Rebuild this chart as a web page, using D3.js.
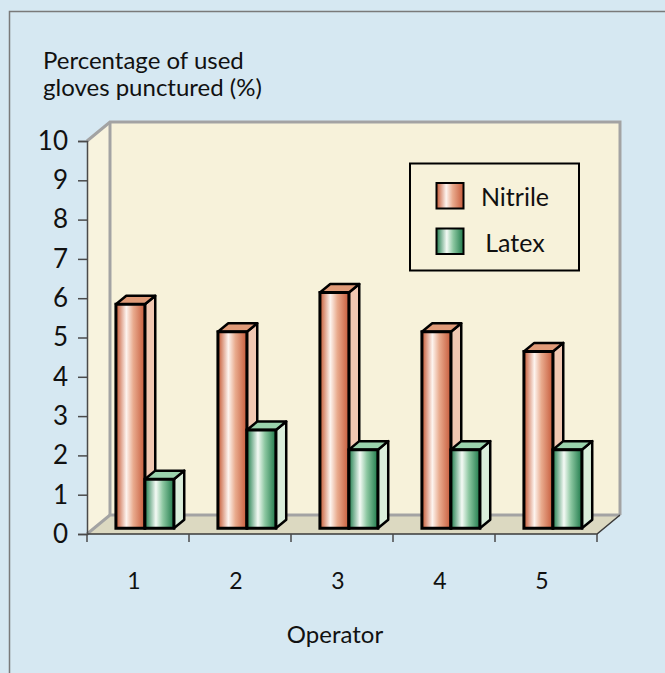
<!DOCTYPE html>
<html>
<head>
<meta charset="utf-8">
<script src="https://cdn.jsdelivr.net/npm/d3@7"></script>
<style>
  body { margin: 0; background: #d6e8f2; }
  text { font-family: Lato, "Open Sans", sans-serif; fill: #111; }
</style>
</head>
<body>
<div id="wrapper"></div>
<script>
// data
const operators = ["1", "2", "3", "4", "5"];
const seriesNames = ["Nitrile", "Latex"];
const nitrile = [5.7, 5.0, 6.0, 5.0, 4.5];
const latex = [1.25, 2.5, 2.0, 2.0, 2.0];
const yTicks = [0, 1, 2, 3, 4, 5, 6, 7, 8, 9, 10];

const values = { Nitrile: nitrile, Latex: latex };

function drawChart() {
  const width = 665;
  const height = 673;

  // depth of the 3D box in pixels
  const depth = { dx: 23, dy: -19 };
  const barFront = 0.3; // where the bars start inside the depth
  const barDepth = 0.45; // how deep the bars are

  const svg = d3
    .select("#wrapper")
    .append("svg")
    .attr("width", width)
    .attr("height", height);

  const defs = svg.append("defs");
  const gradients = {
    Nitrile: [
      [0, "#c4552f"],
      [0.36, "#fdf4ef"],
      [0.6, "#e9ab8e"],
      [1, "#c65a3a"],
    ],
    Latex: [
      [0, "#1f7d4c"],
      [0.38, "#f4faf5"],
      [0.62, "#8cc7a1"],
      [1, "#1f7a4b"],
    ],
  };
  Object.entries(gradients).forEach(([name, stops]) => {
    const g = defs
      .append("linearGradient")
      .attr("id", "grad-" + name)
      .attr("x1", "0%")
      .attr("x2", "100%")
      .attr("y1", "0%")
      .attr("y2", "0%");
    stops.forEach((s) =>
      g.append("stop").attr("offset", s[0]).attr("stop-color", s[1])
    );
  });
  const sideColor = { Nitrile: "#f1c8b2", Latex: "#daeedb" };
  const topColor = { Nitrile: "#e09b78", Latex: "#9ad2ac" };

  // outer frame
  svg
    .append("rect")
    .attr("x", 9.5)
    .attr("y", 11.5)
    .attr("width", width)
    .attr("height", height)
    .attr("fill", "#d6e8f2")
    .attr("stroke", "#7a7a7a")
    .attr("stroke-width", 1.5);

  // scales
  const yScale = d3.scaleLinear().domain([0, 10]).range([534, 141]);
  const x0 = d3.scaleBand().domain(operators).range([87, 597]);
  const x1 = d3
    .scaleBand()
    .domain(seriesNames)
    .range([0, x0.bandwidth()])
    .paddingOuter(0.76);

  const left = x0.range()[0];
  const right = x0.range()[1];
  const y0 = yScale(0);
  const yTop = yScale(10);

  const pt = (x, y, f) => [x + f * depth.dx, y + f * depth.dy];
  const poly = (pts) => pts.map((p) => p.join(",")).join(" ");

  // walls and floor
  svg
    .append("polygon")
    .attr("points", poly([pt(left, yTop, 0), pt(left, yTop, 1), pt(left, y0, 1), pt(left, y0, 0)]))
    .attr("fill", "#f8f3de");
  svg
    .append("polygon")
    .attr("points", poly([pt(left, yTop, 1), pt(right, yTop, 1), pt(right, y0, 1), pt(left, y0, 1)]))
    .attr("fill", "#f7f2da");
  svg
    .append("polygon")
    .attr("points", poly([pt(left, y0, 0), pt(left, y0, 1), pt(right, y0, 1), pt(right, y0, 0)]))
    .attr("fill", "#dcd9c1");

  // gray wall edges
  svg
    .append("polyline")
    .attr("points", poly([pt(left, yTop, 0), pt(left, yTop, 1), pt(right, yTop, 1), pt(right, y0, 1)]))
    .attr("fill", "none")
    .attr("stroke", "#a3a3a3")
    .attr("stroke-width", 3);
  svg
    .append("polyline")
    .attr("points", poly([pt(left, y0, 0), pt(left, y0, 1), pt(right, y0, 1)]))
    .attr("fill", "none")
    .attr("stroke", "#a3a3a3")
    .attr("stroke-width", 3);
  svg
    .append("line")
    .attr("x1", pt(left, yTop, 1)[0])
    .attr("x2", pt(left, y0, 1)[0])
    .attr("y1", pt(left, yTop, 1)[1])
    .attr("y2", pt(left, y0, 1)[1])
    .attr("stroke", "#a3a3a3")
    .attr("stroke-width", 3);

  // floor front and right edges
  svg
    .append("polyline")
    .attr("points", poly([pt(left, y0, 0), pt(right, y0, 0), pt(right, y0, 1)]))
    .attr("fill", "none")
    .attr("stroke", "#3a3a3a")
    .attr("stroke-width", 1.5);

  // y axis
  const yAxis = svg
    .append("g")
    .attr("transform", `translate(${left},0)`)
    .call(d3.axisLeft(yScale).tickValues(yTicks).tickSize(9).tickPadding(10).tickFormat(d3.format("d")));
  yAxis.select(".domain").attr("stroke", "#4a4a4a").attr("stroke-width", 1.5);
  yAxis.selectAll(".tick line").attr("stroke", "#4a4a4a").attr("stroke-width", 1.5);
  yAxis
    .selectAll(".tick text")
    .attr("font-size", 26)
    .attr("font-family", "Lato, sans-serif")
    .attr("fill", "#111");

  // x axis ticks at category boundaries
  const bounds = operators.map((d) => x0(d)).concat([right]);
  svg
    .append("g")
    .selectAll("line")
    .data(bounds)
    .join("line")
    .attr("x1", (d) => d)
    .attr("x2", (d) => d)
    .attr("y1", y0)
    .attr("y2", y0 + 8)
    .attr("stroke", "#4a4a4a")
    .attr("stroke-width", 1.5);

  svg
    .append("g")
    .selectAll("text")
    .data(operators)
    .join("text")
    .attr("x", (d) => x0(d) + x0.bandwidth() / 2 - 4)
    .attr("y", 589)
    .attr("text-anchor", "middle")
    .attr("font-size", 23)
    .text((d) => d);

  // bars
  const barData = [];
  seriesNames.forEach((s) => {
    operators.forEach((op, i) => {
      barData.push({ series: s, op: op, value: values[s][i] });
    });
  });

  const bars = svg
    .append("g")
    .selectAll("g")
    .data(barData)
    .join("g");

  const face = (d) => {
    const x = x0(d.op) + x1(d.series);
    const w = x1.bandwidth();
    const yv = yScale(d.value);
    return {
      fl: pt(x, yv, barFront),
      fr: pt(x + w, yv, barFront),
      bl: pt(x, y0, barFront),
      br: pt(x + w, y0, barFront),
      tl: pt(x, yv, barFront + barDepth),
      tr: pt(x + w, yv, barFront + barDepth),
      sb: pt(x + w, y0, barFront + barDepth),
    };
  };

  bars
    .append("polygon")
    .attr("points", (d) => {
      const f = face(d);
      return poly([f.fr, f.tr, f.sb, f.br]);
    })
    .attr("fill", (d) => sideColor[d.series])
    .attr("stroke", "#000")
    .attr("stroke-width", 2.5)
    .attr("stroke-linejoin", "round");
  bars
    .append("polygon")
    .attr("points", (d) => {
      const f = face(d);
      return poly([f.fl, f.tl, f.tr, f.fr]);
    })
    .attr("fill", (d) => topColor[d.series])
    .attr("stroke", "#000")
    .attr("stroke-width", 2.5)
    .attr("stroke-linejoin", "round");
  bars
    .append("polygon")
    .attr("points", (d) => {
      const f = face(d);
      return poly([f.fl, f.fr, f.br, f.bl]);
    })
    .attr("fill", (d) => `url(#grad-${d.series})`)
    .attr("stroke", "#000")
    .attr("stroke-width", 3)
    .attr("stroke-linejoin", "miter");

  // legend
  const legend = svg.append("g");
  legend
    .append("rect")
    .attr("x", 410)
    .attr("y", 163.5)
    .attr("width", 169)
    .attr("height", 107)
    .attr("fill", "#f7f2da")
    .attr("stroke", "#000")
    .attr("stroke-width", 2);
  const items = legend
    .selectAll("g")
    .data(seriesNames)
    .join("g")
    .attr("transform", (d, i) => `translate(0,${i * 45.5})`);
  items
    .append("rect")
    .attr("x", 436.5)
    .attr("y", 183)
    .attr("width", 27)
    .attr("height", 25.5)
    .attr("fill", (d) => `url(#grad-${d})`)
    .attr("stroke", "#000")
    .attr("stroke-width", 2);
  items
    .append("text")
    .attr("x", 515)
    .attr("y", 206)
    .attr("text-anchor", "middle")
    .attr("font-size", 25)
    .text((d) => d);

  // titles
  const title = svg
    .append("text")
    .attr("x", 43)
    .attr("y", 69)
    .attr("font-size", 24);
  title.append("tspan").attr("x", 43).attr("y", 69).text("Percentage of used");
  title.append("tspan").attr("x", 43).attr("y", 96).text("gloves punctured (%)");

  svg
    .append("text")
    .attr("x", 335)
    .attr("y", 643)
    .attr("text-anchor", "middle")
    .attr("font-size", 24)
    .text("Operator");
}

drawChart();
</script>
</body>
</html>
